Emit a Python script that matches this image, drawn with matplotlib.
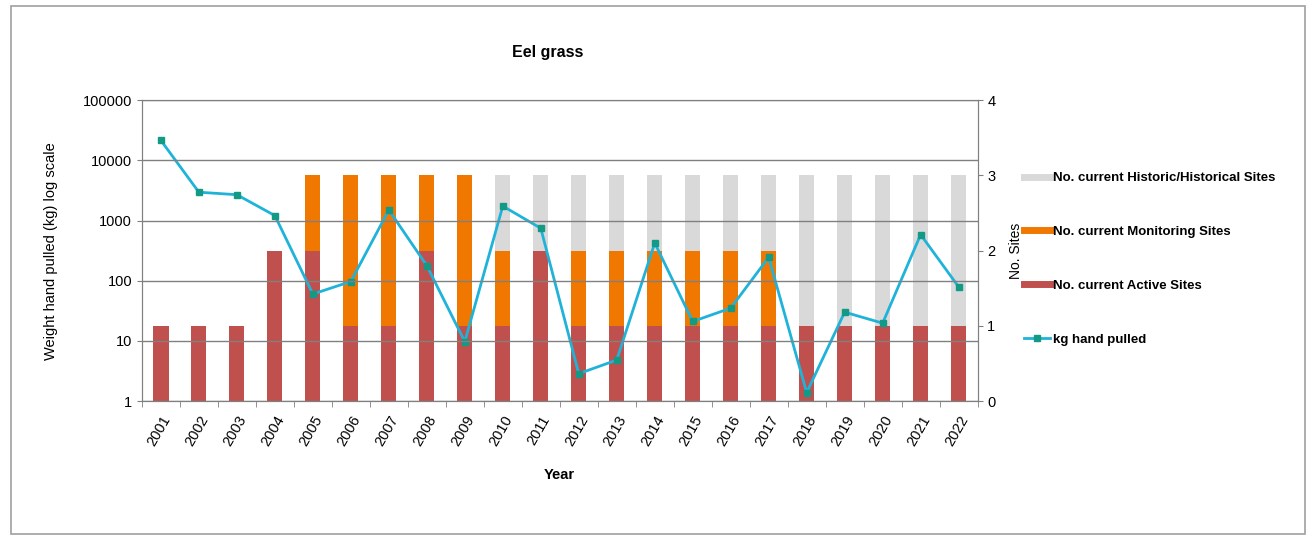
import numpy as np
import matplotlib
matplotlib.use('Agg')
import matplotlib.pyplot as plt
from matplotlib.lines import Line2D
from matplotlib.patches import Rectangle

plt.rcParams['font.family'] = ['Liberation Sans', 'DejaVu Sans']

years = [str(y) for y in range(2001, 2023)]
active = [1, 1, 1, 2, 2, 1, 1, 2, 1, 1, 2, 1, 1, 1, 1, 1, 1, 1, 1, 1, 1, 1]
monitoring = [0, 0, 0, 0, 1, 2, 2, 1, 2, 1, 0, 1, 1, 1, 1, 1, 1, 0, 0, 0, 0, 0]
historic = [0, 0, 0, 0, 0, 0, 0, 0, 0, 1, 1, 1, 1, 1, 1, 1, 1, 2, 2, 2, 2, 2]
kg_pulled = [21500, 2960, 2690, 1210, 60, 97, 1500, 178, 9.7, 1740, 745,
             2.85, 4.8, 424, 21, 35, 245, 1.38, 30, 19.7, 584, 79]

c_active = '#C0504D'
c_mon = '#F07800'
c_hist = '#D9D9D9'
c_line = '#1FB3D9'
c_mark = '#139A86'

fig = plt.figure(figsize=(13.14, 5.39), dpi=100)
fig.patches.append(Rectangle((0.008, 0.01), 0.985, 0.978, transform=fig.transFigure,
                             fill=False, edgecolor='#A0A0A0', linewidth=1.2))

ax = fig.add_axes([0.108, 0.256, 0.636, 0.558])
ax2 = ax.twinx()
x = np.arange(len(years))

# bars on the right axis (behind), line on left log axis
ax.set_zorder(2)
ax.patch.set_visible(False)
ax2.set_zorder(1)

act = np.array(active)
mon = np.array(monitoring)
his = np.array(historic)
ax2.bar(x, act, width=0.4, color=c_active)
ax2.bar(x, mon, width=0.4, bottom=act, color=c_mon)
ax2.bar(x, his, width=0.4, bottom=act + mon, color=c_hist)
ax2.set_ylim(0, 4)
ax2.set_yticks([0, 1, 2, 3, 4])
ax2.set_ylabel('No. Sites', fontsize=10, labelpad=10)

ax.plot(x, kg_pulled, color=c_line, linewidth=2, marker='s', markersize=5,
        markerfacecolor=c_mark, markeredgecolor=c_mark)
ax.set_yscale('log')
ax.set_ylim(1, 100000)
ax.set_yticks([1, 10, 100, 1000, 10000, 100000])
ax.set_yticklabels(['1', '10', '100', '1000', '10000', '100000'])
ax.minorticks_off()
ax.set_xlim(-0.5, len(years) - 0.5)
ax.set_xticks(np.arange(-0.5, len(years), 1), minor=True)
ax.set_xticks(x)
ax.set_xticklabels(years, rotation=60, ha='right', va='top', rotation_mode='anchor')
ax.tick_params(axis='x', which='major', length=0, pad=9)
ax.tick_params(axis='x', which='minor', length=4, direction='out', color='#808080')
ax.grid(axis='y', color='#808080', linewidth=1)
ax.set_axisbelow(False)
ax.set_ylabel('Weight hand pulled (kg) log scale', fontsize=10.5, labelpad=18)
ax.set_xlabel('Year', fontsize=10.5, fontweight='bold', labelpad=14)
fig.text(548 / 1314, 1 - 52 / 539, 'Eel grass', fontsize=11.5, fontweight='bold',
         ha='center', va='center')

for a in (ax, ax2):
    for s in a.spines.values():
        s.set_color('#808080')
    a.tick_params(axis='y', colors='#808080', labelcolor='black', labelsize=10.5)
ax.tick_params(axis='x', labelsize=10.5)
ax.set_ylim(1, 100000)

handles = [Line2D([], [], color=c_hist, linewidth=5),
           Line2D([], [], color=c_mon, linewidth=5),
           Line2D([], [], color=c_active, linewidth=5),
           Line2D([], [], color=c_line, linewidth=2, marker='s', markersize=4,
                  markerfacecolor=c_mark, markeredgecolor=c_mark)]
labels = ['No. current Historic/Historical Sites', 'No. current Monitoring Sites',
          'No. current Active Sites', 'kg hand pulled']
fig.legend(handles, labels, loc='upper left', bbox_to_anchor=(0.77, 0.703),
           frameon=False, prop={'weight': 'bold', 'size': 9.5}, labelspacing=3.15,
           handlelength=2.0, handletextpad=0.2)

fig.savefig('out.png', dpi=100)
